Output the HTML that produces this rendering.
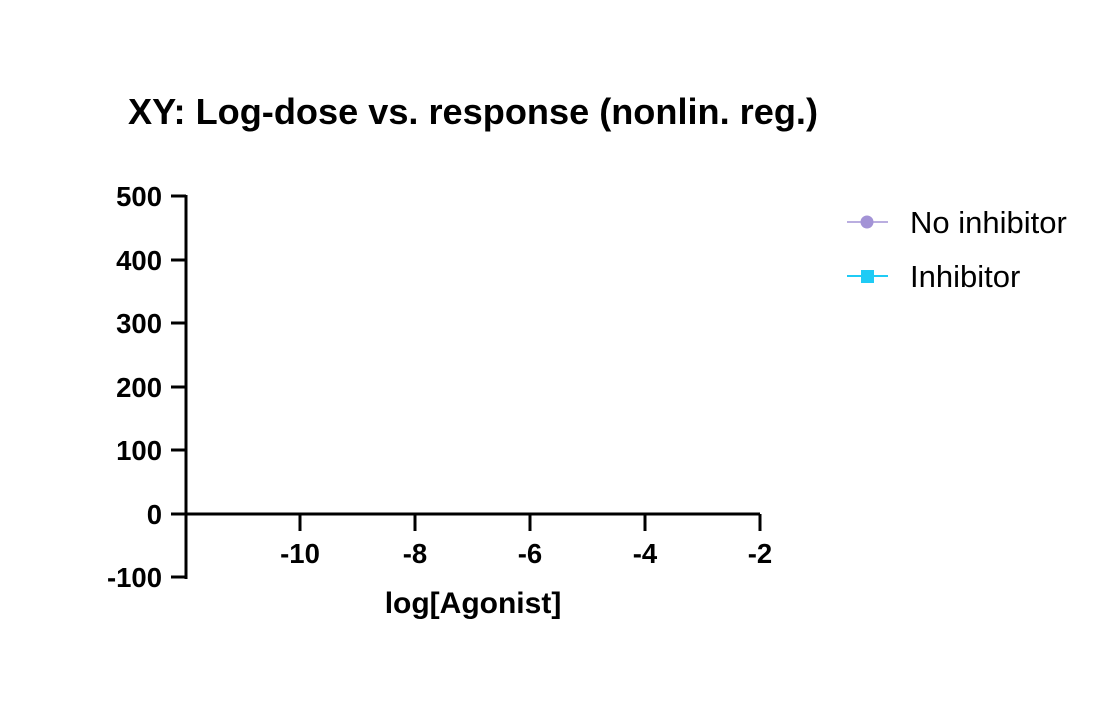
<!DOCTYPE html>
<html><head><style>body{margin:0;background:#fff}svg{display:block}</style></head><body>
<svg width="1100" height="713" xmlns="http://www.w3.org/2000/svg" font-family="Liberation Sans, Arial, sans-serif">
<text x="128" y="124" font-size="36" font-weight="bold" fill="#000" textLength="690" lengthAdjust="spacingAndGlyphs">XY: Log-dose vs. response (nonlin. reg.)</text>
<g stroke="#000" stroke-width="3" fill="none">
<line x1="186" y1="195" x2="186" y2="579"/>
<line x1="171" y1="196" x2="186" y2="196"/>
<line x1="171" y1="260" x2="186" y2="260"/>
<line x1="171" y1="323" x2="186" y2="323"/>
<line x1="171" y1="387" x2="186" y2="387"/>
<line x1="171" y1="450" x2="186" y2="450"/>
<line x1="171" y1="514" x2="760" y2="514"/>
<line x1="171" y1="577" x2="186" y2="577"/>
<line x1="300" y1="514" x2="300" y2="531"/>
<line x1="415" y1="514" x2="415" y2="531"/>
<line x1="530" y1="514" x2="530" y2="531"/>
<line x1="645" y1="514" x2="645" y2="531"/>
<line x1="760" y1="514" x2="760" y2="531"/>
</g>
<g font-size="27.5" font-weight="bold" text-anchor="end" fill="#000">
<text x="162" y="206">500</text><text x="162" y="270">400</text><text x="162" y="333">300</text>
<text x="162" y="397">200</text><text x="162" y="460">100</text><text x="162" y="524">0</text><text x="162" y="587">-100</text>
</g>
<g font-size="27.5" font-weight="bold" text-anchor="middle" fill="#000">
<text x="300" y="563">-10</text><text x="415" y="563">-8</text><text x="530" y="563">-6</text><text x="645" y="563">-4</text><text x="760" y="563">-2</text>
<text x="473" y="613" font-size="30">log[Agonist]</text>
</g>
<line x1="847" y1="222" x2="888" y2="222" stroke="#a393d6" stroke-width="1.5"/>
<circle cx="867" cy="222" r="6.5" fill="#a393d6"/>
<line x1="847" y1="276" x2="888" y2="276" stroke="#1fcbf5" stroke-width="2"/>
<rect x="861" y="270" width="13" height="13" fill="#1fcbf5"/>
<text x="910" y="233" font-size="31" fill="#000">No inhibitor</text>
<text x="910" y="287" font-size="31" fill="#000">Inhibitor</text>
</svg>
</body></html>
